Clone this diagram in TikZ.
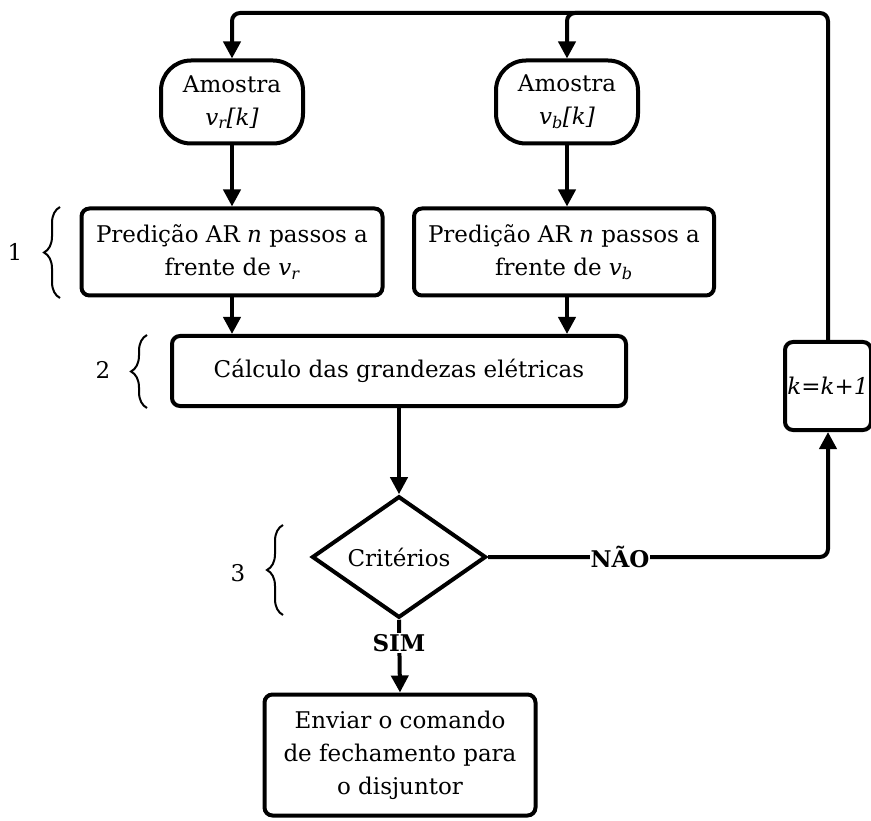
\documentclass[tikz,border=0pt]{standalone}
\usepackage{fontspec}
\setmainfont{DejaVu Serif}
\usetikzlibrary{shapes.geometric,arrows.meta,decorations.pathreplacing}
\begin{document}
\begin{tikzpicture}[x=1pt,y=-1pt,
  txt/.style={font=\fontsize{23}{33}\selectfont},
  box/.style={draw, line width=4pt, rounded corners=8pt, align=center, txt, inner sep=0pt},
  sample/.style={box, rounded corners=30pt, minimum width=142pt, minimum height=83pt},
  dec/.style={draw, line width=4pt, diamond, txt, inner sep=0pt, minimum width=174pt, minimum height=110pt},
  arr/.style={line width=4pt, -{Triangle[length=17pt,width=17pt]}},
  lbl/.style={fill=white, inner sep=1pt, font=\fontsize{23}{33}\selectfont\bfseries},
  brc/.style={draw, line width=2pt, decorate, decoration={brace, amplitude=16pt}},
  num/.style={txt}
]
\useasboundingbox (0,0) rectangle (871,821);
\node[sample] (s1) at (232,102) {Amostra\\{\itshape v\textsubscript{r}[k]}};
\node[sample] (s2) at (567,102) {Amostra\\{\itshape v\textsubscript{b}[k]}};
\node[box, minimum width=301pt, minimum height=87pt] (p1) at (232,252) {Predição AR {\itshape n} passos a\\frente de {\itshape v\textsubscript{r}}};
\node[box, minimum width=300pt, minimum height=87pt] (p2) at (564,252) {Predição AR {\itshape n} passos a\\frente de {\itshape v\textsubscript{b}}};
\node[box, minimum width=454pt, minimum height=70pt] (c) at (399,371) {Cálculo das grandezas elétricas};
\node[dec] (d) at (399,557) {Critérios};
\node[box, minimum width=271pt, minimum height=121pt] (f) at (400,755) {Enviar o comando\\de fechamento para\\o disjuntor};
\node[box, minimum width=86pt, minimum height=88pt] (k) at (828,386) {\itshape k=k+1};

\coordinate (tl) at (232,13);
\coordinate (tr) at (828,13);
\coordinate (tb) at (600,13);
\coordinate (nr) at (828,557);

\draw[arr] (s1) -- (p1);
\draw[arr] (s2.south) -- (s2.south |- p2.north);
\draw[arr] (p1) -- (p1.south |- c.north);
\draw[arr] (p2.south -| s2.south) -- (s2.south |- c.north);
\draw[arr] (c) -- (d);
\draw[arr, rounded corners=8pt] (k.north) -- (tr) -- (tl) -- (s1.north);
\draw[arr, rounded corners=8pt] (tb) -| (s2.north);
\draw[arr, rounded corners=8pt] (d.east) -- (nr) -- (k.south);
\draw[arr] (d.south) -- (f.north);
\node[lbl] (nao) at (620,557) {NÃO};
\node[lbl] (sim) at (399,643) {SIM};

\draw[brc] (60,298) -- (60,207);
\node[num] (n1) at (15,252) {1};
\draw[brc] (147,408) -- (147,335);
\node[num] (n2) at (103,370) {2};
\draw[brc] (283,615) -- (283,525);
\node[num] (n3) at (238,573) {3};
\end{tikzpicture}
\end{document}
